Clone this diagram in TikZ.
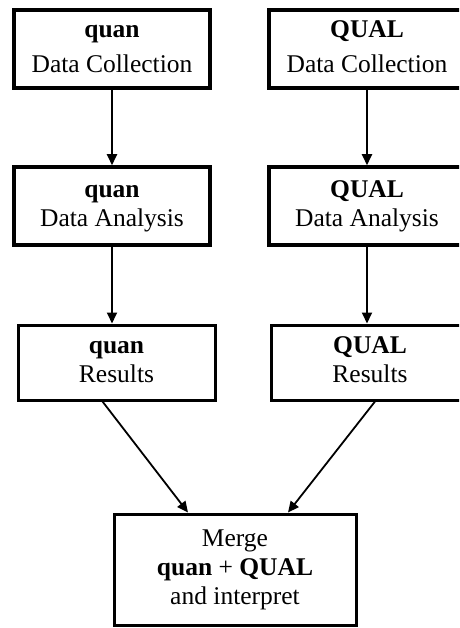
\documentclass[tikz,border=0pt]{standalone}
\usepackage{fontspec}
\setmainfont{Liberation Serif}
\usetikzlibrary{arrows.meta, positioning, calc}

\begin{document}
\begin{tikzpicture}[x=1pt, y=-1pt,
    box/.style={draw=black, line width=3.5pt, align=center, inner sep=0pt,
                font=\fontsize{25.5}{29}\selectfont},
    arr/.style={-{Triangle[length=11pt, width=10pt]}, line width=1.8pt}]
  \useasboundingbox (0,0) rectangle (459,628);
  \clip (0,0) rectangle (459,628);

  % data collection
  \node[box, minimum width=196pt, minimum height=78pt] (quancol) at (112,49)
    {\strut\textbf{quan}\\[6pt]Data Collection\strut};
  \node[box, minimum width=196pt, minimum height=78pt] (qualcol) at (367,49)
    {\strut\textbf{QUAL}\\[6pt]Data Collection\strut};

  % data analysis
  \node[box, minimum width=196pt, minimum height=78pt] (quanana) at (112,206)
    {\strut\textbf{quan}\\Data Analysis\strut};
  \node[box, minimum width=196pt, minimum height=78pt] (qualana) at (367,206)
    {\strut\textbf{QUAL}\\Data Analysis\strut};

  % results
  \node[box, line width=3pt, minimum width=197pt, minimum height=75pt] (quanres) at (116.5,362.5)
    {\strut\textbf{quan}\\Results\strut};
  \node[box, line width=3pt, minimum width=197pt, minimum height=75pt] (qualres) at (370,362.5)
    {\strut\textbf{QUAL}\\Results\strut};

  % merge
  \node[box, line width=3pt, minimum width=242pt, minimum height=111pt] (merge) at (235,569.5)
    {\strut Merge\\\textbf{quan} + \textbf{QUAL}\\and interpret\strut};

  \draw[arr] (quancol.south) -- (quanana.north);
  \draw[arr] (qualcol.south) -- (qualana.north);
  \draw[arr] (quanana.south) -- (quanana.south |- quanres.north);
  \draw[arr] (qualana.south) -- (qualana.south |- qualres.north);
  \draw[arr] ([xshift=-14pt]quanres.south) -- ([xshift=-47pt]merge.north);
  \draw[arr] ([xshift=5pt]qualres.south) -- ([xshift=53pt]merge.north);
\end{tikzpicture}
\end{document}
